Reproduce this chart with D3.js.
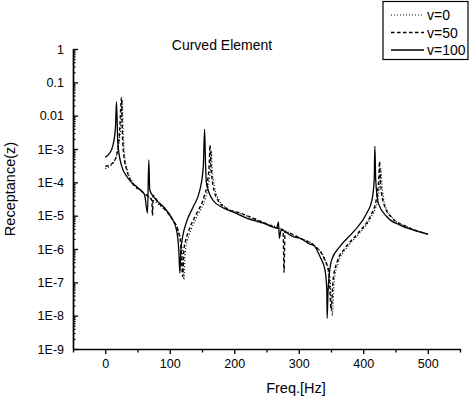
<!DOCTYPE html>
<html>
<head>
<meta charset="utf-8">
<script src="https://cdn.jsdelivr.net/npm/d3@7"></script>
<style>
  body { margin: 0; background: #fff; }
  text { font-family: "Liberation Sans", Arial, sans-serif; fill: #000; }
</style>
</head>
<body>
<div id="viz"></div>
<script>
// data: [freq Hz, receptance]
var v0Data = [
  [0, 2.6e-4], [10, 3.4e-4], [17, 6e-4], [21, 1.5e-3], [24.5, 6e-3], [26.5, 0.03], [27.5, 5e-3],
  [29.5, 8e-4], [34, 2.4e-4], [42, 1.05e-4], [55, 5.6e-5], [70, 3.3e-5], [85, 2e-5], [97, 1.25e-5],
  [106, 7e-6], [114, 3.3e-6], [119, 1.1e-6], [122, 1.2e-7], [124, 8e-7], [127, 1.7e-6], [133, 3.8e-6],
  [144, 1.1e-5], [155, 3.3e-5], [161, 1.1e-4], [163.5, 4.5e-4], [164.5, 9e-4], [165.5, 3e-4],
  [169, 8e-5], [177, 2.8e-5], [190, 1.6e-5], [210, 1.15e-5], [240, 6.8e-6], [270, 4.2e-6],
  [300, 2.2e-6], [326, 1.2e-6], [340, 5.2e-7], [348, 1.6e-7], [352, 1e-8], [355, 1.1e-7],
  [361, 3.8e-7], [373, 1e-6], [393, 2.8e-6], [412, 9e-6], [422, 2.7e-5], [426, 1.1e-4],
  [427.5, 2.5e-4], [429, 9e-5], [434, 2e-5], [446, 8.2e-6], [466, 4.8e-6], [500, 2.8e-6]
];

var v50Data = [
  [0, 3e-4], [11.6, 3.8e-4], [19, 8.3e-4], [22.5, 4.3e-3], [25.2, 0.035], [26.4, 3.7e-3],
  [28.7, 6.6e-4], [33.4, 2.3e-4], [41, 1e-4], [53.6, 5.9e-5], [66, 3.9e-5], [72.2, 2.9e-5],
  [73.3, 1e-5], [74.2, 4e-5], [81.5, 2.6e-5], [94, 1.4e-5], [104.8, 7.4e-6], [112.6, 3.7e-6],
  [117.2, 1.3e-6], [119.9, 1.5e-7], [121.9, 9.3e-7], [125, 1.9e-6], [131, 4.3e-6], [142, 1.2e-5],
  [153, 3.6e-5], [159, 1.2e-4], [161.5, 4.7e-4], [162.3, 1.3e-3], [163.8, 3.3e-4], [167, 8.3e-5],
  [174.7, 2.9e-5], [187, 1.7e-5], [209, 1.2e-5], [240, 6.9e-6], [271, 4e-6], [275.6, 3.8e-6],
  [277.2, 2e-7], [278.7, 3.2e-6], [302, 2.1e-6], [325, 1.2e-6], [339, 5.4e-7], [347, 1.7e-7],
  [350.2, 1.5e-8], [353.3, 1.2e-7], [359.5, 4.1e-7], [372, 1.07e-6], [392, 3e-6], [411, 9.8e-6],
  [420, 2.9e-5], [424, 1.2e-4], [425.2, 4.2e-4], [427, 8.3e-5], [432.5, 2.1e-5], [445, 8.5e-6],
  [465, 4.9e-6], [500, 2.8e-6]
];

var v100Data = [
  [0, 5.7e-4], [7, 7.6e-4], [12, 1.3e-3], [15.8, 4.3e-3], [17.4, 0.026], [19.5, 1.5e-3],
  [25, 3.3e-4], [35, 1.35e-4], [51, 6.8e-5], [61, 4.2e-5], [65.5, 1.2e-5], [67.5, 4.7e-4],
  [69, 5.9e-5], [77, 3.3e-5], [92, 1.7e-5], [103, 8.5e-6], [110.5, 3.7e-6], [114, 9.3e-7],
  [115.7, 1.9e-7], [117.2, 9e-7], [120.3, 2.5e-6], [126, 6.5e-6], [136, 1.8e-5], [146.7, 5.9e-5],
  [152, 2.9e-4], [154, 3.9e-3], [155.5, 3.3e-4], [157, 9.3e-5], [167, 2.9e-5], [183, 1.7e-5],
  [198, 1.3e-5], [219, 8.5e-6], [245, 6e-6], [266, 4.3e-6], [268.5, 6.5e-6], [270, 2.1e-6],
  [272.5, 3.7e-6], [292, 2.3e-6], [302, 2.1e-6], [317.5, 1.4e-6], [323, 1.3e-6], [333, 5.9e-7],
  [340.8, 2.3e-7], [343.5, 5.9e-8], [344, 8.3e-9], [345.5, 6e-8], [351, 4.7e-7], [364, 1.2e-6],
  [385, 3.3e-6], [405.6, 1.2e-5], [413.4, 2.9e-5], [417, 1.2e-4], [418, 1.2e-3], [419.3, 1.2e-4],
  [423.6, 2.3e-5], [436.6, 9.3e-6], [457, 5.2e-6], [478, 3.7e-6], [500, 2.8e-6]
];

var seriesNames = ["v=0", "v=50", "v=100"];
var xTicks = [0, 100, 200, 300, 400, 500];
var xMinorTicks = [-50, 50, 150, 250, 350, 450, 550];
var yTickValues = [1, 0.1, 0.01, 1e-3, 1e-4, 1e-5, 1e-6, 1e-7, 1e-8, 1e-9];
var yTickLabels = ["1", "0.1", "0.01", "1E-3", "1E-4", "1E-5", "1E-6", "1E-7", "1E-8", "1E-9"];

var W = 469, H = 403;
var svg = d3.select("#viz").append("svg")
  .attr("width", W).attr("height", H)
  .style("background", "#fff");

var x = d3.scaleLinear().domain([-50, 550]).range([73, 460]);
var y = d3.scaleLog().domain([1e-9, 1]).range([349, 49]);

// y axis, ticks pointing inwards
var minorY = [];
for (var e = -9; e < 0; e++) {
  for (var m = 2; m <= 9; m++) minorY.push(m * Math.pow(10, e));
}
svg.append("g")
  .attr("transform", "translate(73,0)")
  .call(d3.axisLeft(y).tickValues(minorY).tickSize(-2.5).tickFormat(""))
  .call(function(g) { g.select(".domain").remove(); });

var yAxis = svg.append("g")
  .attr("transform", "translate(73,0)")
  .call(d3.axisLeft(y).tickValues(yTickValues).tickSize(-5).tickSizeOuter(0).tickPadding(9)
    .tickFormat(function(d, i) { return yTickLabels[i]; }));

// x axis, ticks pointing down
svg.append("g")
  .attr("transform", "translate(0,349)")
  .call(d3.axisBottom(x).tickValues(xMinorTicks).tickSize(3.5).tickFormat(""))
  .call(function(g) { g.select(".domain").remove(); });

var xAxis = svg.append("g")
  .attr("transform", "translate(0,349)")
  .call(d3.axisBottom(x).tickValues(xTicks).tickSize(5).tickSizeOuter(0).tickPadding(5));

svg.selectAll(".domain").attr("stroke-width", 1.7);
svg.selectAll(".tick line").attr("stroke-width", 1.3);
svg.selectAll(".tick text").style("font-size", "12.5px").style("font-family", "'Liberation Sans', Arial, sans-serif");

// axis titles and chart title
svg.append("text")
  .attr("x", 296).attr("y", 393)
  .attr("text-anchor", "middle")
  .style("font-size", "14.5px")
  .text("Freq.[Hz]");

svg.append("text")
  .attr("transform", "translate(15,189) rotate(-90)")
  .attr("text-anchor", "middle")
  .style("font-size", "14.5px")
  .text("Receptance(z)");

svg.append("text")
  .attr("x", 222).attr("y", 50)
  .attr("text-anchor", "middle")
  .style("font-size", "14px")
  .text("Curved Element");

// curves
var line = d3.line()
  .x(function(d) { return x(d[0]); })
  .y(function(d) { return y(d[1]); })
  .curve(d3.curveMonotoneX);

var styles = [
  { data: v0Data, dash: "1,2", w: 1.2 },
  { data: v50Data, dash: "3.5,2.5", w: 1.4 },
  { data: v100Data, dash: null, w: 1.3 }
];

styles.forEach(function(s) {
  svg.append("path")
    .datum(s.data)
    .attr("d", line)
    .attr("fill", "none")
    .attr("stroke", "#000")
    .attr("stroke-width", s.w)
    .attr("stroke-dasharray", s.dash);
});

// legend
var legend = svg.append("g");
legend.append("rect")
  .attr("x", 383).attr("y", 1.5)
  .attr("width", 85).attr("height", 58)
  .attr("fill", "#fff")
  .attr("stroke", "#000")
  .attr("stroke-width", 1.2);

var legendY = [15, 32.5, 50];
styles.forEach(function(s, i) {
  legend.append("line")
    .attr("x1", 391).attr("x2", 424)
    .attr("y1", legendY[i]).attr("y2", legendY[i])
    .attr("stroke", "#000")
    .attr("stroke-width", s.w)
    .attr("stroke-dasharray", s.dash);
  legend.append("text")
    .attr("x", 427).attr("y", legendY[i])
    .attr("dy", "0.36em")
    .style("font-size", "14px")
    .text(seriesNames[i]);
});
</script>
</body>
</html>
